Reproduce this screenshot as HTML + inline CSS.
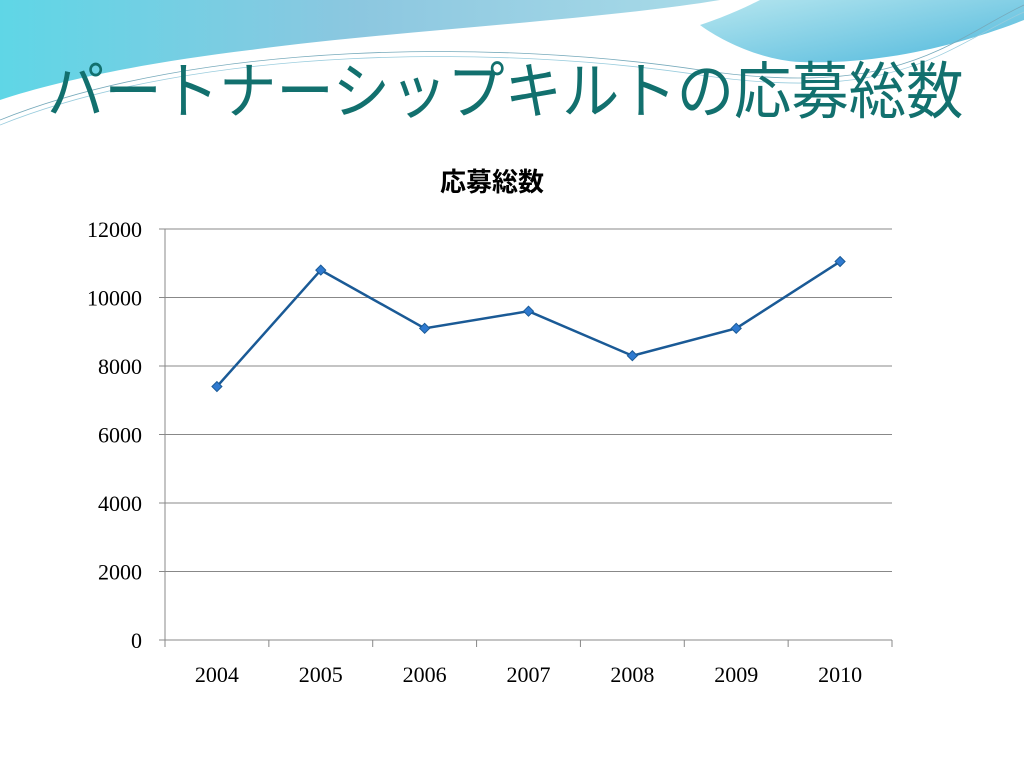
<!DOCTYPE html>
<html><head><meta charset="utf-8"><style>
body{margin:0;width:1024px;height:768px;background:#fff;overflow:hidden;position:relative;font-family:"Liberation Serif","Noto Serif CJK SC",serif}
#title{position:absolute;left:47px;top:62px;font-family:"Liberation Sans","Noto Sans CJK JP",sans-serif;font-size:62px;color:#12706e;white-space:nowrap;transform:scaleX(0.925);transform-origin:0 0;line-height:1}
</style></head><body>
<svg width="1024" height="130" style="position:absolute;left:0;top:0">
<defs><linearGradient id="g1" x1="0" y1="0" x2="1" y2="0"><stop offset="0" stop-color="#5fd6e6"/><stop offset="0.5" stop-color="#8cc7e0"/><stop offset="1" stop-color="#a9dbe8"/></linearGradient>
<linearGradient id="g2" x1="0" y1="0" x2="1" y2="1"><stop offset="0" stop-color="#b6e6ef"/><stop offset="1" stop-color="#4fb8dc"/></linearGradient></defs>
<path d="M0,0 H720 C600,20 400,30 250,50 C150,62 60,80 0,100 Z" fill="url(#g1)"/>
<path d="M760,0 H1024 V20 C960,45 880,65 800,62 C760,60 720,40 700,25 C730,15 750,5 760,0 Z" fill="url(#g2)"/>
<path d="M0,120 C200,40 500,40 700,70 S950,40 1024,5" stroke="#7ab" stroke-width="0.8" fill="none"/>
<path d="M0,125 C200,45 500,45 700,75 S950,45 1024,12" stroke="#9cd" stroke-width="0.8" fill="none"/>
</svg>
<div id="title">パートナーシップキルトの応募総数</div>
<svg id="chart" width="1024" height="768" style="position:absolute;left:0;top:0"></svg>
<script>
const categories=["2004","2005","2006","2007","2008","2009","2010"];
const values=[7400,10800,9100,9600,8300,9100,11050];
const yTicks=[0,2000,4000,6000,8000,10000,12000];
const NS="http://www.w3.org/2000/svg";
const svg=document.getElementById('chart');
const L=165,R=892,T=229,B=640,ymax=12000;
const y=v=>B-(v/ymax)*(B-T);
const bw=(R-L)/categories.length;
const x=i=>L+bw*(i+0.5);
function mk(t,a){const e=document.createElementNS(NS,t);for(const k in a)e.setAttribute(k,a[k]);svg.appendChild(e);return e;}
let ct=mk('text',{x:492,y:191,'text-anchor':'middle','font-size':26,'font-weight':'bold','font-family':'"Liberation Sans","Noto Sans CJK JP",sans-serif'});
ct.textContent='応募総数';


yTicks.forEach(t=>{
 const g=mk('line',{x1:L-6,x2:R,y1:y(t),y2:y(t),stroke:'#888','stroke-width':1});
 
 
 const tx=mk('text',{x:142,y:y(t)+8,'text-anchor':'end','font-size':22});
 tx.textContent=t;
 
 
});
const ax=mk('line',{x1:L,x2:L,y1:T,y2:B,stroke:'#888'});


for(let i=0;i<=categories.length;i++){
 const tk=mk('line',{x1:L+bw*i,x2:L+bw*i,y1:B,y2:B+7,stroke:'#888'});
 
 
}
categories.forEach((c,i)=>{
 const tx=mk('text',{x:x(i),y:682,'text-anchor':'middle','font-size':22});
 tx.textContent=c;
 
 
});
const line=mk('polyline',{points:values.map((v,i)=>x(i)+','+y(v)).join(' '),fill:'none',stroke:'#1a5a96','stroke-width':2.5});


values.forEach((v,i)=>{
 const cx=x(i),cy=y(v);
 const m=mk('polygon',{points:`${cx},${cy-5} ${cx+5},${cy} ${cx},${cy+5} ${cx-5},${cy}`,fill:'#2f7ad0',stroke:'#1a5a96'});
 
 
});
</script>
</body></html>
